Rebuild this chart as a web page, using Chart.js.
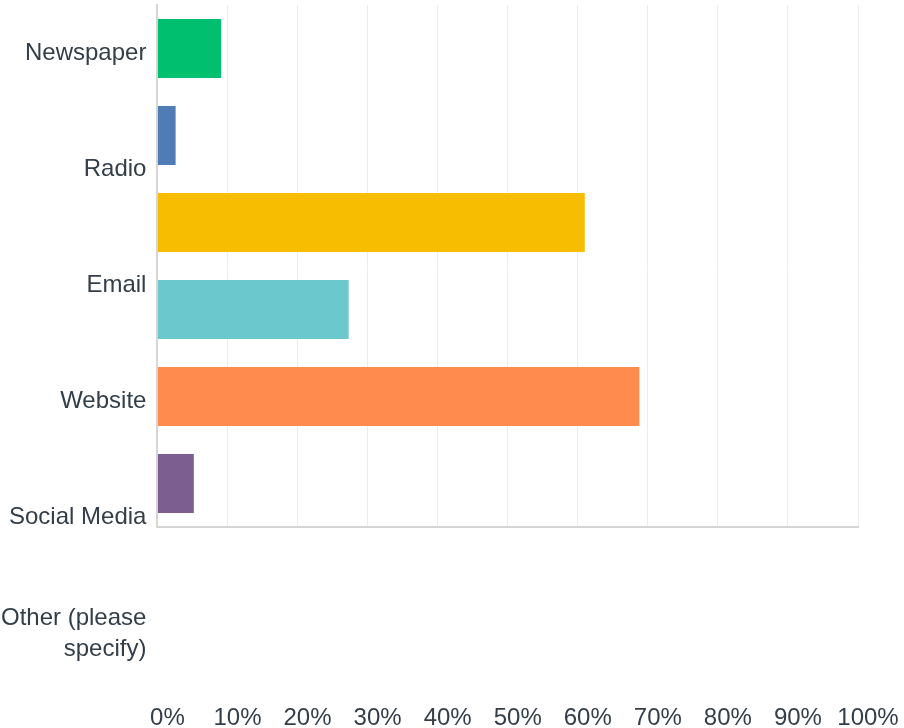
<!DOCTYPE html>
<html>
<head>
<meta charset="utf-8">
<script src="https://cdn.jsdelivr.net/npm/chart.js@4/dist/chart.umd.min.js"></script>
<style>
  html, body { margin: 0; padding: 0; background: #fff; }
  #wrap { width: 904px; height: 728px; position: relative; }
</style>
</head>
<body>
<div id="wrap"><canvas id="surveyChart"></canvas></div>
<script>
// answer choices and share of respondents (%)
const categories = ['Newspaper', 'Radio', 'Email', 'Website', 'Social Media', ['Other (please', 'specify)']];
const percentages = [9.1, 2.6, 61.0, 27.3, 68.8, 5.2];
const barColors = ['#00bf6f', '#507cb6', '#f7bd00', '#6bc8cd', '#ff8b4f', '#7d5e90'];
const xTickMax = 100;
const xTickStep = 10;

const textColor = '#333e48';
const fontFamily = '"Liberation Sans", Arial, Helvetica, sans-serif';
const fontSize = 24;

// the category names sit on their own band, wider than the bar band
const labelBand = {
  id: 'labelBand',
  afterLayout(chart) {
    const s = chart.scales.yl;
    s.top = -5;
    s.bottom = 692;
    s.height = s.bottom - s.top;
    s.configure();
  }
};

new Chart(document.getElementById('surveyChart').getContext('2d'), {
  type: 'bar',
  data: {
    labels: categories,
    datasets: [{
      data: percentages,
      backgroundColor: barColors,
      borderWidth: 0,
      barPercentage: 0.68,
      categoryPercentage: 1.0
    }]
  },
  options: {
    indexAxis: 'y',
    responsive: true,
    maintainAspectRatio: false,
    animation: false,
    layout: {
      padding: { top: 5, right: 46, bottom: -2, left: 1 }
    },
    scales: {
      x: {
        min: 0,
        max: xTickMax,
        grid: { color: '#ececec', lineWidth: 1, drawTicks: false },
        border: { display: true, color: '#d6d6d6', width: 2 },
        ticks: {
          stepSize: xTickStep,
          padding: 179,
          labelOffset: 10,
          autoSkip: false,
          maxRotation: 0,
          color: textColor,
          font: { family: fontFamily, size: fontSize, lineHeight: 1 },
          callback: (v) => v + '%'
        },
        // gap above the labels only, none below them
        afterFit: (scale) => {
          scale.height = scale.options.ticks.padding + fontSize;
          scale.paddingLeft = 0;
          scale.paddingRight = 0;
        }
      },
      y: {
        position: 'left',
        weight: 0,
        grid: { display: false, drawTicks: false },
        border: { display: true, color: '#d6d6d6', width: 2 },
        ticks: { display: false }
      },
      yl: {
        type: 'category',
        position: 'left',
        weight: 1,
        offset: true,
        grid: { display: false, drawTicks: false },
        border: { display: false },
        ticks: {
          padding: 11,
          autoSkip: false,
          color: textColor,
          font: { family: fontFamily, size: fontSize, lineHeight: 1.3 }
        },
        afterFit: (scale) => {
          scale.width -= scale.options.ticks.padding;
          scale.paddingTop = 0;
          scale.paddingBottom = 0;
        }
      }
    },
    plugins: {
      legend: { display: false },
      tooltip: { enabled: false }
    }
  },
  plugins: [labelBand]
});
</script>
</body>
</html>
